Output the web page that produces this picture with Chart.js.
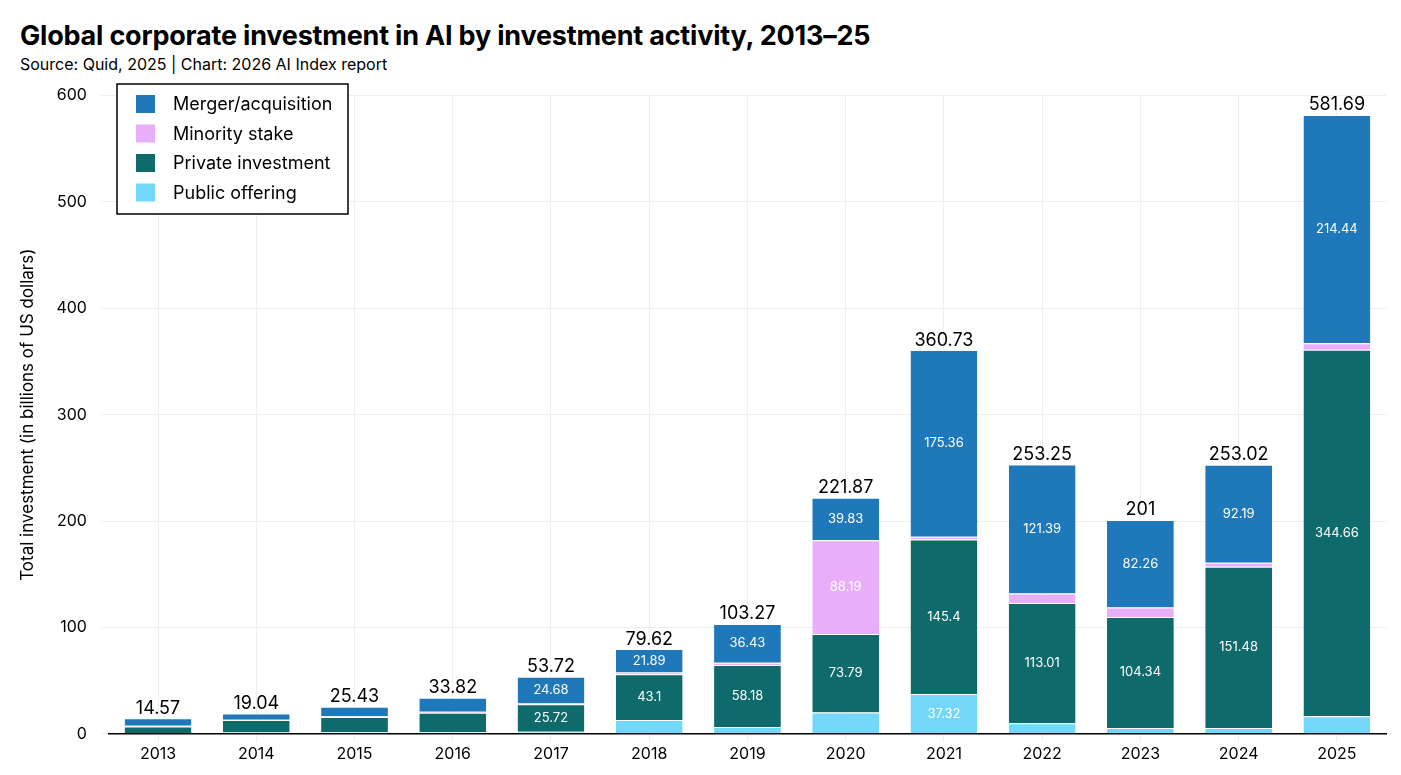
<!DOCTYPE html>
<html><head><meta charset="utf-8">
<script src="https://cdn.jsdelivr.net/npm/chart.js@4"></script>
<style>
body{margin:0;background:#fff;font-family:Inter,"Noto Sans",sans-serif;}
#t{position:absolute;left:20px;top:19px;font-size:27px;font-weight:700;color:#000;letter-spacing:-0.2px}
#s{position:absolute;left:20px;top:54px;font-size:16px;color:#000}
#w{position:absolute;left:0;top:72px;width:1401px;height:703px}
</style></head><body>
<div id="t">Global corporate investment in AI by investment activity, 2013–25</div>
<div id="s">Source: Quid, 2025 | Chart: 2026 AI Index report</div>
<div id="w"><canvas id="c"></canvas></div>
<script>
const years=["2013","2014","2015","2016","2017","2018","2019","2020","2021","2022","2023","2024","2025"];
const publicOffering=[0.5,1.2,1.5,1.5,2,13,6.5,20.06,37.32,10,5.5,5.5,16.5];
const privateInvestment=[6.3,11.8,14.3,18.3,25.72,43.1,58.18,73.79,145.4,113.01,104.34,151.48,344.66];
const minorityStake=[0.8,0.3,0.6,1.0,1.32,1.63,2.16,88.19,2.65,8.85,8.9,3.85,6.09];
const mergerAcq=[6.97,5.74,9.03,13.02,24.68,21.89,36.43,39.83,175.36,121.39,82.26,92.19,214.44];
const totals=[14.57,19.04,25.43,33.82,53.72,79.62,103.27,221.87,360.73,253.25,201,253.02,581.69];
const labelMin=21;
const F="Inter, 'Noto Sans', sans-serif";
const mk=(l,d,c)=>({label:l,data:d,backgroundColor:c,borderColor:'#fff',borderWidth:{top:1},barPercentage:0.68,categoryPercentage:1});
const sets=[mk('Public offering',publicOffering,'#72d7f8'),mk('Private investment',privateInvestment,'#0f6a6b'),mk('Minority stake',minorityStake,'#e9aef9'),mk('Merger/acquisition',mergerAcq,'#1f78b9')];
const plug={id:'p',afterDatasetsDraw(ch){
 const x=ch.ctx;x.save();
 x.textAlign='center';x.textBaseline='middle';x.font='13px '+F;x.fillStyle='#fff';
 ch.data.datasets.forEach((ds,i)=>{ch.getDatasetMeta(i).data.forEach((b,j)=>{
  if(ds.data[j]>=labelMin){x.fillText(String(ds.data[j]),b.x,(b.y+b.base)/2);}
 });});
 x.fillStyle='#000';x.font='18px '+F;x.textBaseline='bottom';
 const top=ch.getDatasetMeta(3).data;
 totals.forEach((t,j)=>x.fillText(String(t),top[j].x,ch.scales.y.getPixelForValue(t)-1));
 const lx=117,ly=12,lw=231,lh=130;
 x.fillStyle='#fff';x.fillRect(lx,ly,lw,lh);
 x.strokeStyle='#000';x.lineWidth=1.5;x.strokeRect(lx,ly,lw,lh);
 const order=[3,2,1,0];
 x.textAlign='left';x.textBaseline='middle';x.font='18px '+F;
 order.forEach((k,i)=>{const yy=ly+20+i*29.5;
  x.fillStyle=ch.data.datasets[k].backgroundColor;x.fillRect(lx+19,yy-9,19,18);
  x.fillStyle='#000';x.fillText(ch.data.datasets[k].label,lx+56,yy+1);});
 x.restore();}};
new Chart(document.getElementById('c'),{type:'bar',data:{labels:years,datasets:sets},
 options:{responsive:true,maintainAspectRatio:false,animation:false,
  layout:{padding:{top:18,right:15,left:14,bottom:8}},
  plugins:{legend:{display:false},tooltip:{enabled:false}},
  scales:{
   x:{stacked:true,grid:{color:'#eeeeee',offset:false},border:{color:'#000',width:1.5},ticks:{color:'#000',font:{size:16,family:F}}},
   y:{stacked:true,min:0,max:600,ticks:{stepSize:100,color:'#000',padding:14,font:{size:16,family:F}},grid:{color:'#eeeeee'},border:{display:false},
      title:{display:true,text:'Total investment (in billions of US dollars)',color:'#000',font:{size:17,family:F}}}
  }},plugins:[plug]});
</script></body></html>
